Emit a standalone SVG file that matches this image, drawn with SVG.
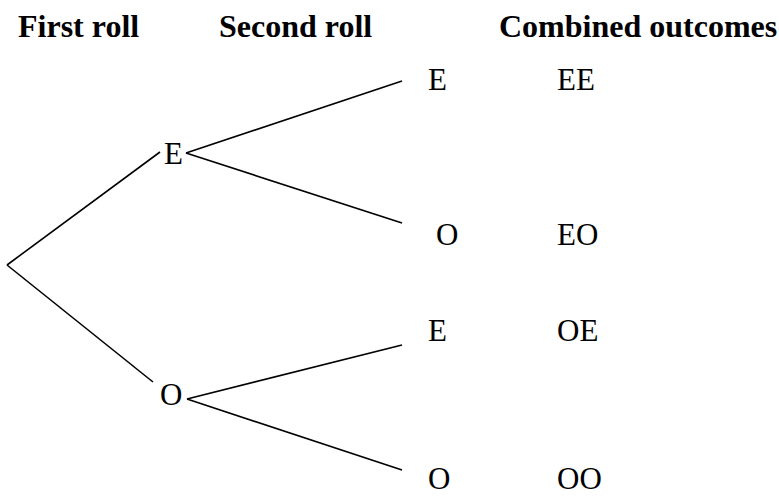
<svg xmlns="http://www.w3.org/2000/svg" width="779" height="497" viewBox="0 0 779 497">
<style>
.h{font-family:"Liberation Serif","Times New Roman",serif;font-weight:bold;font-size:32px;fill:#000}
.t{font-family:"Liberation Serif","Times New Roman",serif;font-size:31px;fill:#000}
.c line{stroke:#000;stroke-width:1.6;fill:none}
</style>
<rect width="779" height="497" fill="#fff"/>
<g id="headers">
<text class="h" x="18" y="37">First roll</text>
<text class="h" x="219" y="37">Second roll</text>
<text class="h" x="499" y="37">Combined outcomes</text>
</g>
<g class="c" id="connectors">
<line x1="7" y1="265" x2="160" y2="152"/>
<line x1="7" y1="265" x2="153" y2="382"/>
<line x1="186" y1="153" x2="402" y2="81"/>
<line x1="186" y1="153" x2="402" y2="223"/>
<line x1="187" y1="399" x2="402" y2="345"/>
<line x1="187" y1="399" x2="402" y2="470"/>
</g>
<g id="node-E1"><text class="t" x="164" y="164">E</text></g>
<g id="node-O1"><text class="t" x="160" y="405">O</text></g>
<g id="node-EE"><text class="t" x="428" y="90">E</text><text class="t" x="557" y="90">EE</text></g>
<g id="node-EO"><text class="t" x="436" y="245">O</text><text class="t" x="557" y="245">EO</text></g>
<g id="node-OE"><text class="t" x="428" y="341">E</text><text class="t" x="557" y="341">OE</text></g>
<g id="node-OO"><text class="t" x="428" y="489">O</text><text class="t" x="557" y="489">OO</text></g>
</svg>
